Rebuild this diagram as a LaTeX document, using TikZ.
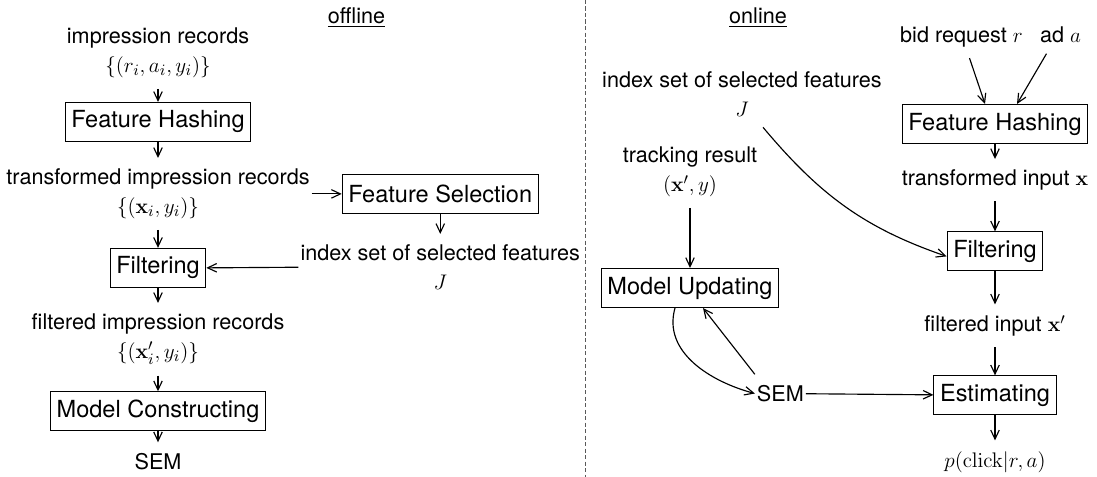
\documentclass[tikz,border=0pt]{standalone}
\usepackage{amsmath,amssymb}
\usepackage[no-math]{fontspec}
\setmainfont{TeX Gyre Heros}
\usetikzlibrary{arrows.meta, positioning}
\tikzset{
  box/.style={rectangle, draw=black, line width=0.6pt, minimum height=0.78cm, inner xsep=3.5pt,
              align=center, font=\fontsize{13.4}{16}\selectfont},
  lbl/.style={align=center, inner xsep=1pt, inner ysep=6pt, font=\fontsize{12.3}{16.5}\selectfont},
  flow/.style={-{Straight Barb[length=1.8mm,width=1.7mm]}, line width=0.65pt},
  divider/.style={dash pattern=on 2.3pt off 1.4pt, line width=0.5pt, draw=black!65}
}

\begin{document}
\begin{tikzpicture}[node distance=0.3cm]
  \useasboundingbox (0,0) rectangle (21.94,-9.54);
  \node[lbl] (offT) at (7.13,-0.36) {\underline{offline}};
  \node[lbl] (onT) at (15.16,-0.36) {\underline{online}};
  \coordinate (divtop) at (11.7,0);
  \coordinate (divbot) at (11.7,-9.54);
  \draw[divider] (divtop) -- (divbot);

  \node[lbl] (imp) at (3.16,-1.06) {impression records\\$\{(r_i,a_i,y_i)\}$};
  \node[box, below=0.26cm of imp] (hashA) {Feature Hashing};
  \node[lbl, below=0.32cm of hashA] (trans) {transformed impression records\\$\{(\mathbf{x}_i,y_i)\}$};
  \node[box, below=0.36cm of trans] (filtA) {Filtering};
  \node[lbl, below=0.3cm of filtA] (filt) {filtered impression records\\$\{(\mathbf{x}'_i,y_i)\}$};
  \node[box, below=0.31cm of filt] (mcA) {Model Constructing};
  \node[lbl, below=0.22cm of mcA] (semA) {SEM};
  \node[box, right=0.6cm of trans] (fsel) {Feature Selection};
  \node[lbl, below=0.4cm of fsel] (idxA) {index set of selected features\\$J$};
  \draw[flow] (imp)--(hashA); \draw[flow] (hashA)--(trans); \draw[flow] (trans)--(filtA);
  \draw[flow] (filtA)--(filt); \draw[flow] (filt)--(mcA); \draw[flow] (mcA)--(semA);
  \draw[flow] (trans)--(fsel); \draw[flow] (fsel)--(idxA); \draw[flow] (idxA.west)--(filtA.east);

  \node[lbl] (bid) at (19.23,-0.74) {bid request $r$};
  \node[lbl, base right=0.26cm of bid] (ad) {ad $a$};
  \node[box] (hashB) at (19.9,-2.48) {Feature Hashing};
  \node[lbl, below=of hashB] (xin) {transformed input $\mathbf{x}$};
  \node[box, below=0.6cm of xin] (filtB) {Filtering};
  \node[lbl, below=0.66cm of filtB] (xflt) {filtered input $\mathbf{x}'$};
  \node[box, below=0.56cm of xflt] (est) {Estimating};
  \node[lbl, below=0.5cm of est] (prob) {$p(\mathrm{click}|r,a)$};
  \node[lbl] (idxB) at (14.84,-1.88) {index set of selected features\\$J$};
  \node[box] (upd) at (13.8,-5.76) {Model Updating};
  \node[lbl, above=1.2cm of upd] (track) {tracking result\\$(\mathbf{x}',y)$};
  \node[lbl, base left=2.55cm of est] (semB) {SEM};
  \draw[flow] ([xshift=0.16cm]bid.south)--([xshift=-0.2cm]hashB.north);
  \draw[flow] ([xshift=-0.28cm]ad.south)--([xshift=0.44cm]hashB.north);
  \draw[flow] (hashB)--(xin); \draw[flow] (xin)--(filtB); \draw[flow] (filtB)--(xflt);
  \draw[flow] (xflt)--(est); \draw[flow] (est)--(prob); \draw[flow] (track)--(upd);
  \draw[flow] ([xshift=0.42cm]idxB.south) to[out=-50, in=161] ([yshift=-0.1cm]filtB.west);
  \draw[flow] ([xshift=-0.3cm]upd.south) to[out=-106, in=165] (semB.west);
  \draw[flow] (semB.north west)--([xshift=0.26cm]upd.south);
  \draw[flow] (semB)--(est);
\end{tikzpicture}
\end{document}
